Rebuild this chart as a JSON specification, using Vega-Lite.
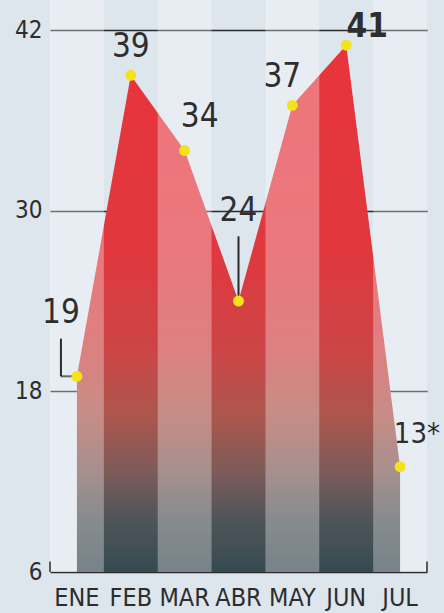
{
  "$schema": "https://vega.github.io/schema/vega-lite/v6.json",
  "width": 377,
  "height": 572,
  "autosize": {"type": "none"},
  "padding": {"left": 50, "top": 0, "right": 17, "bottom": 41},
  "background": "#dde5ed",
  "config": {
    "view": {"stroke": null},
    "font": "DejaVu Sans Condensed, Liberation Sans Narrow, Roboto",
    "text": {"font": "DejaVu Sans Condensed, Liberation Sans Narrow, Roboto", "fontSize": 33, "color": "#2e2e2e", "baseline": "middle", "align": "center"}
  },
  "data": {
    "values": [
      {"mes": "ENE", "valor": 19, "etiqueta": "19"},
      {"mes": "FEB", "valor": 39, "etiqueta": "39"},
      {"mes": "MAR", "valor": 34, "etiqueta": "34"},
      {"mes": "ABR", "valor": 24, "etiqueta": "24"},
      {"mes": "MAY", "valor": 37, "etiqueta": "37"},
      {"mes": "JUN", "valor": 41, "etiqueta": "41"},
      {"mes": "JUL", "valor": 13, "etiqueta": "13*"}
    ]
  },
  "encoding": {
    "x": {
      "field": "mes", "type": "nominal", "bandPosition": 0.5,
      "scale": {"domain": ["ENE", "FEB", "MAR", "ABR", "MAY", "JUN", "JUL"], "paddingInner": 0, "paddingOuter": 0},
      "axis": {"title": null, "labelAngle": 0, "domain": false, "ticks": false, "grid": false, "labelFontSize": 25, "labelColor": "#2d2d2d", "labelPadding": 13, "labelFont": "DejaVu Sans Condensed, Liberation Sans Narrow, Roboto"}
    },
    "y": {
      "field": "valor", "type": "quantitative",
      "scale": {"domain": [6, 44], "nice": false, "zero": false},
      "axis": {"title": null, "values": [6, 18, 30, 42], "domain": false, "ticks": false, "grid": true, "gridColor": "#2b2b2b", "gridWidth": 1.5, "labelFontSize": 24, "labelColor": "#2d2d2d", "labelPadding": 8, "labelFont": "DejaVu Sans Condensed, Liberation Sans Narrow, Roboto"}
    }
  },
  "layer": [
    {
      "mark": {
        "type": "area",
        "color": {
          "gradient": "linear", "x1": 0, "y1": 0, "x2": 0, "y2": 1,
          "stops": [
            {"offset": 0, "color": "#e8343c"},
            {"offset": 0.39, "color": "#e0383e"},
            {"offset": 0.58, "color": "#cc4546"},
            {"offset": 0.7, "color": "#ad564d"},
            {"offset": 0.81, "color": "#7d5b58"},
            {"offset": 0.9, "color": "#4f5559"},
            {"offset": 1, "color": "#364a52"}
          ]
        }
      },
      "encoding": {"y2": {"datum": 6}}
    },
    {
      "transform": [{"filter": "indexof(['ENE', 'MAR', 'MAY', 'JUL'], datum.mes) >= 0"}],
      "mark": {"type": "bar", "color": "#ffffff", "opacity": 0.32},
      "encoding": {"x": {"field": "mes", "type": "nominal"}, "y": {"datum": 44}, "y2": {"datum": 6}}
    },
    {
      "transform": [{"filter": "datum.mes == 'ENE'"}],
      "mark": {"type": "rule", "color": "#2b2b2b", "strokeWidth": 1.5},
      "encoding": {"x": {"field": "mes", "type": "nominal", "bandPosition": 0}, "y": {"datum": 6}, "y2": {"datum": 6.7}}
    },
    {
      "transform": [{"filter": "datum.mes == 'JUL'"}],
      "mark": {"type": "rule", "color": "#2b2b2b", "strokeWidth": 1.5},
      "encoding": {"x": {"field": "mes", "type": "nominal", "bandPosition": 1}, "y": {"datum": 6}, "y2": {"datum": 6.7}}
    },
    {
      "transform": [{"filter": "datum.mes == 'ABR'"}],
      "mark": {"type": "rule", "color": "#2b2b2b", "strokeWidth": 2},
      "encoding": {"y2": {"datum": 28.3}}
    },
    {
      "transform": [{"filter": "datum.mes == 'ENE'"}],
      "mark": {"type": "rule", "color": "#2b2b2b", "strokeWidth": 2, "xOffset": -16},
      "encoding": {"y2": {"datum": 21.5}}
    },
    {
      "transform": [{"filter": "datum.mes == 'ENE'"}],
      "mark": {"type": "tick", "color": "#2b2b2b", "thickness": 2, "size": 16, "xOffset": -8}
    },
    {
      "mark": {"type": "circle", "color": "#f4e21a", "size": 120, "opacity": 1}
    },
    {
      "transform": [{"filter": "datum.mes == 'ENE'"}],
      "mark": {"type": "text", "dx": -16, "dy": -63},
      "encoding": {"text": {"field": "etiqueta"}}
    },
    {
      "transform": [{"filter": "datum.mes == 'FEB'"}],
      "mark": {"type": "text", "dy": -28},
      "encoding": {"text": {"field": "etiqueta"}}
    },
    {
      "transform": [{"filter": "datum.mes == 'MAR'"}],
      "mark": {"type": "text", "dx": 15, "dy": -34},
      "encoding": {"text": {"field": "etiqueta"}}
    },
    {
      "transform": [{"filter": "datum.mes == 'ABR'"}],
      "mark": {"type": "text", "dy": -90},
      "encoding": {"text": {"field": "etiqueta"}}
    },
    {
      "transform": [{"filter": "datum.mes == 'MAY'"}],
      "mark": {"type": "text", "dx": -10, "dy": -28},
      "encoding": {"text": {"field": "etiqueta"}}
    },
    {
      "transform": [{"filter": "datum.mes == 'JUN'"}],
      "mark": {"type": "text", "dx": 21, "dy": -18, "fontWeight": "bold"},
      "encoding": {"text": {"field": "etiqueta"}}
    },
    {
      "transform": [{"filter": "datum.mes == 'JUL'"}],
      "mark": {"type": "text", "align": "right", "fontSize": 29, "dx": 40, "dy": -33},
      "encoding": {"text": {"field": "etiqueta"}}
    }
  ]
}
